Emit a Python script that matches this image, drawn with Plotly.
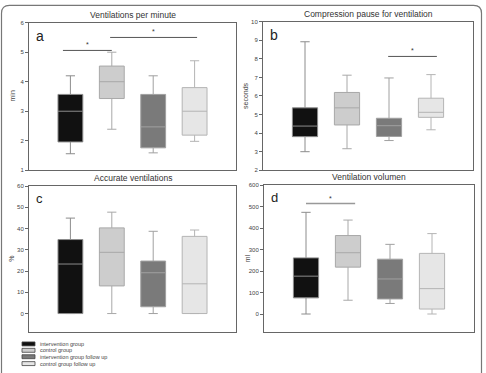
import plotly.graph_objects as go

W, H = 486, 373

groups = ["intervention group", "control group", "intervention group follow up", "control group follow up"]
fills = ["#111111", "#cdcdcd", "#7a7a7a", "#e6e6e6"]
lines = ["#8c8c8c", "#a8a8a8", "#a0a0a0", "#b4b4b4"]

titles = ["Ventilations per minute", "Compression pause for ventilation",
          "Accurate ventilations", "Ventilation volumen"]
letters = ["a", "b", "c", "d"]
ytitles = ["min", "seconds", "%", "ml"]

# box statistics per panel: [lower, q1, median, q3, upper] per group
vent_per_min = {
    "lower":  [1.56, 2.39, 1.59, 1.98],
    "q1":     [1.96, 3.43, 1.76, 2.19],
    "median": [3.00, 4.00, 2.47, 3.00],
    "q3":     [3.57, 4.53, 3.57, 3.80],
    "upper":  [4.20, 5.00, 4.20, 4.71],
}
comp_pause = {
    "lower":  [3.00, 3.16, 3.60, 4.18],
    "q1":     [3.81, 4.44, 3.82, 4.85],
    "median": [4.38, 5.36, 4.40, 5.12],
    "q3":     [5.36, 6.19, 4.80, 5.88],
    "upper":  [8.92, 7.12, 6.97, 7.15],
}
accurate = {
    "lower":  [0.0, 0.0, 0.0, 0.0],
    "q1":     [0.0, 13.0, 3.2, 0.0],
    "median": [23.3, 28.8, 19.2, 14.0],
    "q3":     [34.8, 40.3, 24.7, 36.3],
    "upper":  [44.9, 47.7, 38.7, 39.3],
}
volume = {
    "lower":  [0, 64, 49, 0],
    "q1":     [75, 218, 70, 23],
    "median": [176, 285, 163, 118],
    "q3":     [261, 365, 255, 282],
    "upper":  [473, 437, 324, 374],
}
panels = [vent_per_min, comp_pause, accurate, volume]

yranges = [[1, 6], [2, 10], [-8.5, 60], [-82, 600]]
ytickvals = [[1, 2, 3, 4, 5, 6], [2, 3, 4, 5, 6, 7, 8, 9, 10],
             [0, 10, 20, 30, 40, 50, 60], [0, 100, 200, 300, 400, 500, 600]]

# significance bars: (panel index, x0, x1, y)
sig_panel = [0, 0, 1, 3]
sig_x0 = [0.82, 1.96, 2.98, 1.0]
sig_x1 = [2.0, 4.06, 4.14, 2.17]
sig_y = [5.06, 5.5, 8.13, 514]

# pixel boxes for plot areas: (left, right, top, bottom)
areas = [(29, 236, 20, 170), (263, 473, 19, 170), (29, 236, 186, 334), (264, 474, 185, 334)]

FONT = "Arial, Liberation Sans, sans-serif"

def px(x):
    return x / W

def py(y):
    return 1 - y / H

fig = go.Figure()
layout = dict(width=W, height=H, margin=dict(l=0, r=0, t=0, b=0),
              paper_bgcolor="white", plot_bgcolor="white", showlegend=False,
              font=dict(family=FONT, color="#333"), boxmode="overlay")
shapes = []
annotations = []

for p, stats in enumerate(panels):
    sfx = "" if p == 0 else str(p + 1)
    xa, ya = "x" + sfx, "y" + sfx
    for g in range(4):
        fig.add_trace(go.Box(
            x=[g + 1], q1=[stats["q1"][g]], median=[stats["median"][g]], q3=[stats["q3"][g]],
            lowerfence=[stats["lower"][g]], upperfence=[stats["upper"][g]],
            width=0.6, whiskerwidth=0.37, fillcolor=fills[g],
            line=dict(color=lines[g], width=1), name=groups[g],
            boxpoints=False, hoverinfo="skip", xaxis=xa, yaxis=ya))
    l, r, t, b = areas[p]
    layout["xaxis" + sfx] = dict(domain=[px(l), px(r)], range=[0, 5], anchor=ya,
                                 showticklabels=False, ticks="", showgrid=False, zeroline=False,
                                 showline=True, mirror=True, linecolor="#666", linewidth=1)
    layout["yaxis" + sfx] = dict(domain=[py(b), py(t)], range=yranges[p], anchor=xa,
                                 tickvals=ytickvals[p], ticks="outside", ticklen=3, tickwidth=1,
                                 tickcolor="#666", tickfont=dict(size=6, color="#444"),
                                 showgrid=False, zeroline=False, showline=True, mirror=True,
                                 linecolor="#666", linewidth=1)
    annotations.append(dict(text=titles[p], x=(px(l) + px(r)) / 2, y=py(t - 1),
                            xref="paper", yref="paper", xanchor="center", yanchor="bottom",
                            showarrow=False, font=dict(size=8.5, color="#333")))
    annotations.append(dict(text=letters[p], x=px(l + 5), y=py(t + 3), xref="paper", yref="paper",
                            xanchor="left", yanchor="top", showarrow=False,
                            font=dict(size=14 if p < 2 else 13, color="#222")))
    annotations.append(dict(text=ytitles[p], x=px(l - 17), y=(py(t) + py(b)) / 2,
                            xref="paper", yref="paper", xanchor="center", yanchor="middle",
                            textangle=-90, showarrow=False, font=dict(size=7, color="#444")))

for i in range(len(sig_y)):
    p = sig_panel[i]
    sfx = "" if p == 0 else str(p + 1)
    col = "#555" if p != 3 else "#999"
    wid = 1 if p != 3 else 1.5
    shapes.append(dict(type="line", xref="x" + sfx, yref="y" + sfx, x0=sig_x0[i], x1=sig_x1[i],
                       y0=sig_y[i], y1=sig_y[i], line=dict(color=col, width=wid)))
    annotations.append(dict(text="*", x=(sig_x0[i] + sig_x1[i]) / 2, y=sig_y[i],
                            xref="x" + sfx, yref="y" + sfx, xanchor="center", yanchor="bottom",
                            yshift=0, showarrow=False, font=dict(size=7, color="#333")))

# legend (drawn from the group list)
leg_y = [346.5, 353, 359.5, 366.5]
for g in range(4):
    shapes.append(dict(type="rect", xref="paper", yref="paper", x0=px(22), x1=px(35),
                       y0=py(leg_y[g] + 2), y1=py(leg_y[g] - 2),
                       fillcolor=fills[g], line=dict(color="#444", width=0.8)))
    annotations.append(dict(text=groups[g], x=px(38), y=py(leg_y[g]), xref="paper", yref="paper",
                            xanchor="left", yanchor="middle", showarrow=False,
                            font=dict(size=5.5, color="#444")))

# outer frame with rounded top corners
x0, x1, y0, y1 = px(1.5), px(481.5), py(2.5), py(380)
rx, ry = px(8), 8 / H
path = (f"M {x0},{y1} L {x0},{y0 - ry} Q {x0},{y0} {x0 + rx},{y0} "
        f"L {x1 - rx},{y0} Q {x1},{y0} {x1},{y0 - ry} L {x1},{y1}")
shapes.append(dict(type="path", xref="paper", yref="paper", path=path,
                   line=dict(color="#777", width=1.2)))

layout["shapes"] = shapes
layout["annotations"] = annotations
fig.update_layout(**layout)
fig.write_html("out.html")
